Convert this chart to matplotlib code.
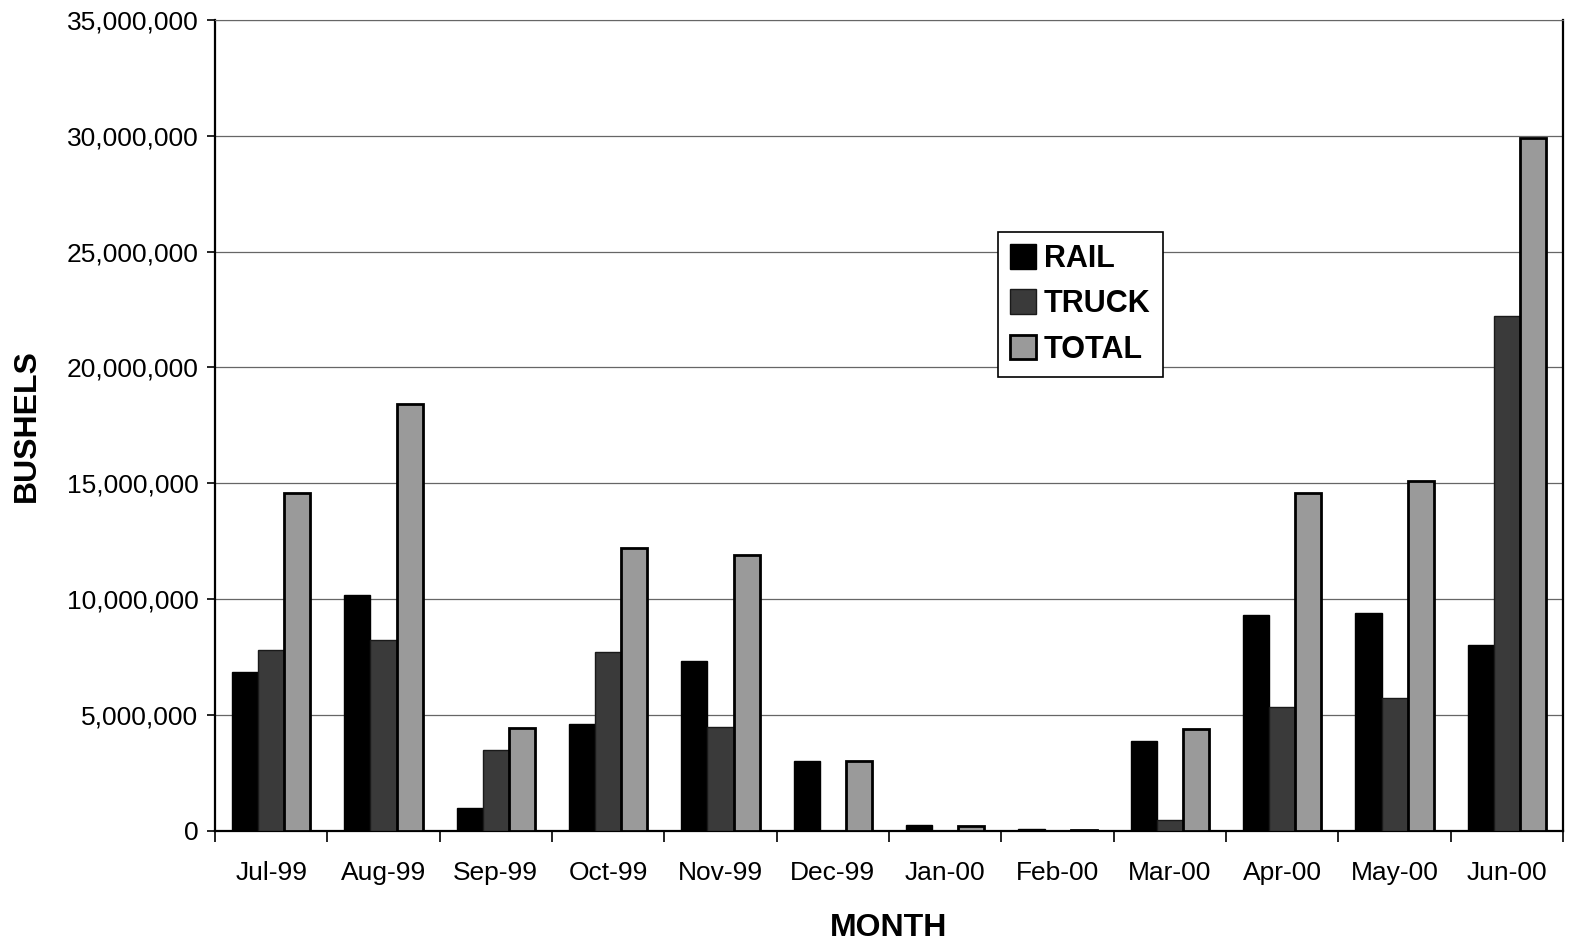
import numpy as np
import matplotlib.pyplot as plt
from matplotlib.ticker import FuncFormatter, FixedLocator

plt.rcParams['font.family'] = ['Liberation Sans', 'DejaVu Sans']

months = ['Jul-99', 'Aug-99', 'Sep-99', 'Oct-99', 'Nov-99', 'Dec-99',
          'Jan-00', 'Feb-00', 'Mar-00', 'Apr-00', 'May-00', 'Jun-00']
rail = [6.85, 10.2, 1.0, 4.6, 7.35, 3.0, 0.25, 0.1, 3.9, 9.3, 9.4, 8.0]
truck = [7.8, 8.25, 3.5, 7.7, 4.5, 0.0, 0.0, 0.0, 0.45, 5.35, 5.75, 22.2]
total = [14.6, 18.4, 4.45, 12.2, 11.9, 3.0, 0.2, 0.05, 4.4, 14.6, 15.1, 29.9]

rail = np.array(rail) * 1e6
truck = np.array(truck) * 1e6
total = np.array(total) * 1e6

fig = plt.figure(figsize=(15.76, 9.41), dpi=100)
ax = fig.add_axes([0.1364, 0.117, 0.8554, 0.862])

x = np.arange(len(months))
w = 0.232
ax.bar(x - w, rail, w, color='black', edgecolor='black', linewidth=1, label='RAIL', zorder=3)
ax.bar(x, truck, w, color='#3a3a3a', edgecolor='#1a1a1a', linewidth=1, label='TRUCK', zorder=3)
ax.bar(x + w, total, w, color='#9a9a9a', edgecolor='black', linewidth=2, label='TOTAL', zorder=3)

ax.set_xlim(-0.5, len(months) - 0.5)
ax.set_ylim(0, 35e6)
ax.set_yticks(np.arange(0, 35e6 + 1, 5e6))
ax.yaxis.set_major_formatter(FuncFormatter(lambda v, p: f'{int(v):,}'))
ax.grid(axis='y', color='#666666', linewidth=0.9, zorder=0)

# month labels centred on groups, tick marks between groups
ax.set_xticks(x)
ax.set_xticklabels(months)
ax.tick_params(axis='x', length=0, pad=22, labelsize=19)
ax.xaxis.set_minor_locator(FixedLocator(np.arange(-0.5, len(months), 1)))
ax.tick_params(axis='x', which='minor', length=8, width=1.2, direction='out')
ax.tick_params(axis='y', labelsize=19, length=6, width=1.2, direction='out', pad=6)

for s in ['left', 'bottom', 'right']:
    ax.spines[s].set_linewidth(1.6)
ax.spines['top'].set_color('#666666')

ax.set_ylabel('BUSHELS', fontsize=23, fontweight='bold', labelpad=18)
ax.set_xlabel('MONTH', fontsize=23, fontweight='bold', labelpad=20)

leg = ax.legend(loc='upper left', bbox_to_anchor=(0.5695, 0.7575), fancybox=False,
                framealpha=1, edgecolor='black', prop={'size': 22, 'weight': 'bold'},
                handlelength=0.85, handleheight=0.85, handletextpad=0.25,
                labelspacing=0.5, borderpad=0.4)
leg.get_frame().set_linewidth(1.2)

fig.savefig('out.png', dpi=100)
